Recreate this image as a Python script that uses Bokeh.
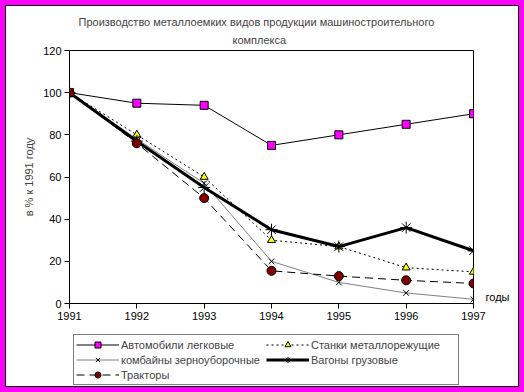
from bokeh.plotting import figure
from bokeh.models import Range1d, Legend, LegendItem, FixedTicker, LinearAxis, Title
from bokeh.layouts import column
from bokeh.embed import file_html
from bokeh.resources import INLINE

years = [1991, 1992, 1993, 1994, 1995, 1996, 1997]
cars = [100, 95, 94, 75, 80, 85, 90]
machine_tools = [100, 80, 60, 30, 27, 17, 15]
combines = [100, 78, 57, 20, 10, 5, 2]
wagons = [100, 77, 55, 35, 27, 36, 25]
tractors = [100, 76, 50, 15.5, 13, 11, 9.5]
y_ticks = [0, 20, 40, 60, 80, 100, 120]

title_line1 = "Производство металлоемких видов продукции машиностроительного"
title_line2 = "комплекса"
x_unit_label = "годы"
y_label = "в % к 1991 году"
names = ["Автомобили легковые", "Станки металлорежущие", "комбайны зерноуборочные",
         "Вагоны грузовые", "Тракторы"]
FONT = "Liberation Sans"

p = figure(width=512, height=319, output_backend="svg", toolbar_location=None,
           x_range=Range1d(1991, 1997), y_range=Range1d(0, 120),
           min_border_left=63, min_border_right=45, min_border_top=44, min_border_bottom=22)
p.title.text = title_line1
p.title.align = "left"
p.title.offset = 9
p.title.standoff = 0
p.title.text_font = FONT
p.title.text_font_size = "11px"
p.title.text_font_style = "normal"
t2 = Title(text=title_line2, align="left", offset=163, standoff=9, text_font=FONT,
           text_font_size="11px", text_font_style="normal")
p.add_layout(t2, "above")

p.xgrid.visible = False
p.ygrid.visible = False
p.outline_line_color = "black"
p.outline_line_width = 1
p.background_fill_color = "white"
p.border_fill_color = "white"

for ax in (p.xaxis[0], p.yaxis[0]):
    ax.major_label_text_font = FONT
    ax.major_label_text_font_size = "11px"
    ax.major_label_text_color = "black"
    ax.axis_line_color = "black"
    ax.major_tick_line_color = "black"
    ax.major_tick_out = 5
    ax.major_tick_in = 0
    ax.minor_tick_line_color = None
    ax.major_label_standoff = 3
p.xaxis[0].ticker = FixedTicker(ticks=years)
p.yaxis[0].ticker = FixedTicker(ticks=y_ticks)
p.yaxis[0].axis_label = y_label
p.yaxis[0].axis_label_text_font = FONT
p.yaxis[0].axis_label_text_font_size = "11px"
p.yaxis[0].axis_label_text_font_style = "normal"
p.yaxis[0].axis_label_standoff = 5

# "годы" as a label-only axis to the right of the frame
right_ax = LinearAxis(ticker=FixedTicker(ticks=[3]), major_label_overrides={3: x_unit_label},
                      axis_line_color=None, major_tick_line_color=None, major_tick_out=0,
                      major_tick_in=0, minor_tick_line_color=None, major_label_standoff=12,
                      major_label_text_font=FONT, major_label_text_font_size="11px",
                      major_label_text_color="black")
p.add_layout(right_ax, "right")


def draw(fig):
    r = []
    r.append((fig.line(years, cars, line_color="black", line_width=1),
              fig.scatter(years, cars, marker="square", size=8, fill_color="#FF00FF", line_color="black")))
    r.append((fig.line(years, machine_tools, line_color="black", line_width=1, line_dash="2 3"),
              fig.scatter(years, machine_tools, marker="triangle", size=8, fill_color="#FFFF00", line_color="black")))
    r.append((fig.line(years, combines, line_color="#808080", line_width=1),
              fig.scatter(years, combines, marker="x", size=8, line_color="black")))
    r.append((fig.line(years, wagons, line_color="black", line_width=3),
              fig.scatter(years, wagons, marker="asterisk", size=12, line_color="black", line_width=1)))
    r.append((fig.line(years, tractors, line_color="black", line_width=1, line_dash="8 5"),
              fig.scatter(years, tractors, marker="circle", size=9, fill_color="#800000", line_color="black")))
    return r


draw(p)

# legend lives in its own strip below the chart; its glyphs fall outside that strip's ranges
lf = figure(width=512, height=61, output_backend="svg", toolbar_location=None,
            x_range=Range1d(0, 1), y_range=Range1d(0, 1), x_axis_type=None, y_axis_type=None,
            min_border_left=0, min_border_right=0, min_border_top=0, min_border_bottom=0)
lf.outline_line_color = None
lf.background_fill_color = "white"
lf.border_fill_color = "white"
lr = draw(lf)

order = [0, 2, 4, 1, 3]
legend = Legend(items=[LegendItem(label=names[i], renderers=list(lr[i])) for i in order],
                nrows=3, orientation="vertical", location=(4, 1))
legend.label_text_font = FONT
legend.label_text_font_size = "11px"
legend.label_height = 15
legend.label_width = 145
legend.glyph_height = 15
legend.glyph_width = 43
legend.label_standoff = 2
legend.spacing = 0
legend.padding = 2
legend.margin = 0
legend.border_line_color = "black"
legend.border_line_width = 1
legend.background_fill_alpha = 1
lf.add_layout(legend, "center")

inner = column(p, lf, spacing=0, styles={"border": "1px solid black", "background-color": "white"})
layout = column(inner, styles={"background-color": "#FF00FF", "padding": "5px"})

open("out.html", "w").write(file_html(layout, INLINE))
